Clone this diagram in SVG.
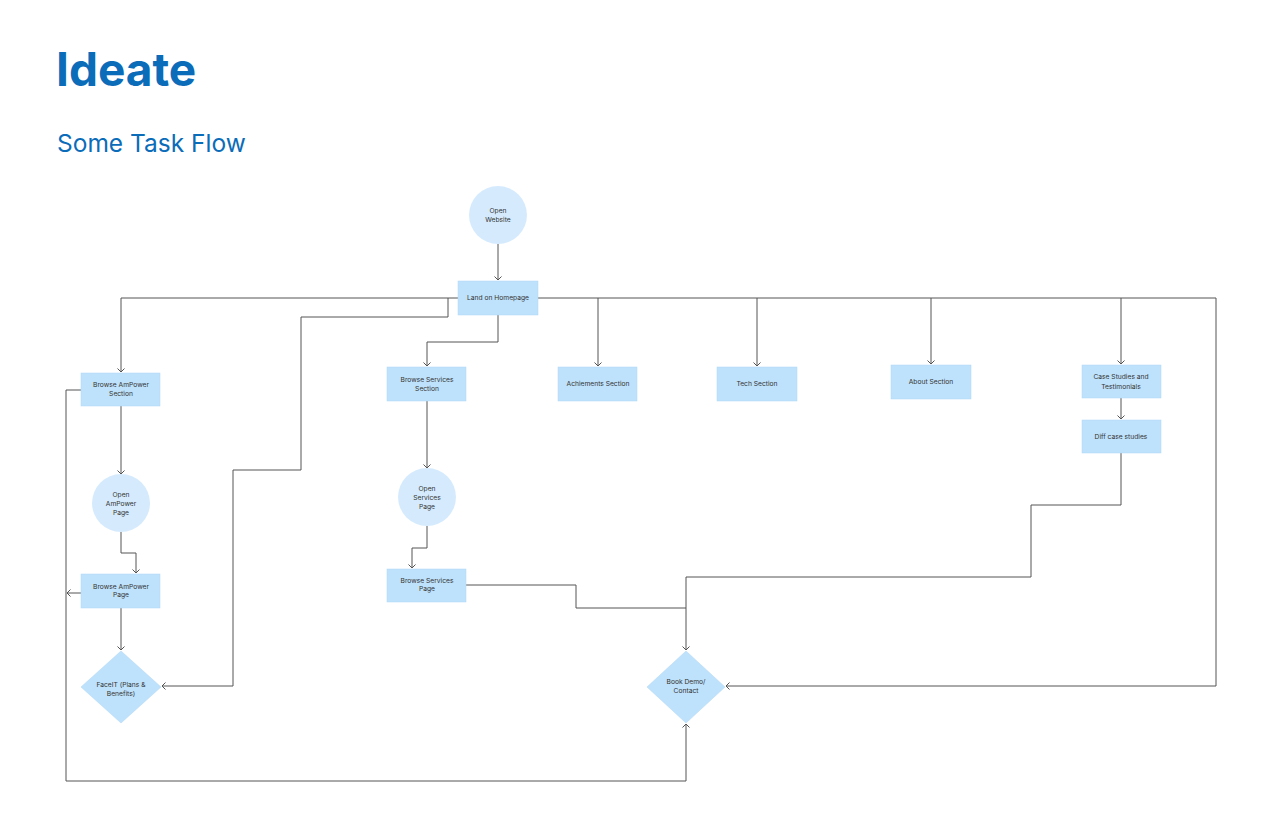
<svg xmlns="http://www.w3.org/2000/svg" width="1280" height="832" viewBox="0 0 1280 832">
<style>
.t1{font-family:Inter,"Liberation Sans",sans-serif;font-weight:700;font-size:46px;fill:#0b6cb9}
.t2{font-family:Inter,"Liberation Sans",sans-serif;font-size:24.5px;fill:#0b6cb9}
.box{fill:#bfe2fc;stroke:#aed6f5;stroke-width:0.5}
.circ{fill:#d5ebfd}
.lbl{font-family:Inter,"Liberation Sans",sans-serif;font-size:6.7px;fill:#333;text-anchor:middle}
.c{fill:none;stroke:#555;stroke-width:1;stroke-linejoin:round}
</style>
<defs>
<marker id="ar" markerWidth="8" markerHeight="8" refX="4" refY="4" orient="auto" markerUnits="userSpaceOnUse">
<polyline points="0.5,0.5 4,4 0.5,7.5" fill="none" stroke="#555" stroke-width="1"/>
</marker>
</defs>
<rect width="1280" height="832" fill="#fff"/>
<text class="t1" x="56" y="86">Ideate</text>
<text class="t2" x="57" y="152">Some Task Flow</text>

<g id="connectors">
<path class="c" d="M498 244 V280" marker-end="url(#ar)"/>
<path class="c" d="M458 298 H121 V372" marker-end="url(#ar)"/>
<path class="c" d="M448 298 V317 H301 V470 H233 V686 H162" marker-end="url(#ar)"/>
<path class="c" d="M498 315 V342 H427 V366" marker-end="url(#ar)"/>
<path class="c" d="M538 298 H1216 V686 H726" marker-end="url(#ar)"/>
<path class="c" d="M598 298 V366" marker-end="url(#ar)"/>
<path class="c" d="M757 298 V366" marker-end="url(#ar)"/>
<path class="c" d="M931 298 V364" marker-end="url(#ar)"/>
<path class="c" d="M1121 298 V364" marker-end="url(#ar)"/>
<path class="c" d="M1121 398 V419" marker-end="url(#ar)"/>
<path class="c" d="M1121 453 V505 H1031 V577 H686 V650" marker-end="url(#ar)"/>
<path class="c" d="M466 585 H576 V608 H686"/>
<path class="c" d="M81 390 H66 V781 H686 V724" marker-end="url(#ar)"/>
<path class="c" d="M81 593 H67" marker-end="url(#ar)"/>
<path class="c" d="M121 406 V474" marker-end="url(#ar)"/>
<path class="c" d="M121 532 V553 H136 V573" marker-end="url(#ar)"/>
<path class="c" d="M121 608 V650" marker-end="url(#ar)"/>
<path class="c" d="M427 401 V468" marker-end="url(#ar)"/>
<path class="c" d="M427 526 V548 H412 V568" marker-end="url(#ar)"/>
</g>

<g id="open-website"><circle class="circ" cx="498" cy="215" r="29"/><text class="lbl" x="498" y="213">Open</text><text class="lbl" x="498" y="222">Website</text></g>
<g id="land-homepage"><rect class="box" x="458" y="281" width="80" height="34"/><text class="lbl" x="498" y="300">Land on Homepage</text></g>
<g id="browse-ampower-section"><rect class="box" x="81" y="373" width="79" height="33"/><text class="lbl" x="121" y="387">Browse AmPower</text><text class="lbl" x="121" y="396">Section</text></g>
<g id="open-ampower-page"><circle class="circ" cx="121" cy="503" r="29"/><text class="lbl" x="121" y="497">Open</text><text class="lbl" x="121" y="506">AmPower</text><text class="lbl" x="121" y="515">Page</text></g>
<g id="browse-ampower-page"><rect class="box" x="81" y="574" width="79" height="34"/><text class="lbl" x="121" y="589">Browse AmPower</text><text class="lbl" x="121" y="597">Page</text></g>
<g id="faceit"><polygon class="box" points="121,651 161,687 121,723 81,687"/><text class="lbl" x="121" y="687">FaceIT (Plans &amp;</text><text class="lbl" x="121" y="696">Benefits)</text></g>
<g id="browse-services-section"><rect class="box" x="387" y="367" width="79" height="34"/><text class="lbl" x="427" y="382">Browse Services</text><text class="lbl" x="427" y="391">Section</text></g>
<g id="open-services-page"><circle class="circ" cx="427" cy="497" r="29"/><text class="lbl" x="427" y="491">Open</text><text class="lbl" x="427" y="500">Services</text><text class="lbl" x="427" y="509">Page</text></g>
<g id="browse-services-page"><rect class="box" x="387" y="569" width="79" height="33"/><text class="lbl" x="427" y="583">Browse Services</text><text class="lbl" x="427" y="591">Page</text></g>
<g id="achiements"><rect class="box" x="558" y="367" width="79" height="34"/><text class="lbl" x="598" y="386">Achiements Section</text></g>
<g id="tech"><rect class="box" x="717" y="367" width="80" height="34"/><text class="lbl" x="757" y="386">Tech Section</text></g>
<g id="about"><rect class="box" x="891" y="365" width="80" height="34"/><text class="lbl" x="931" y="384">About Section</text></g>
<g id="case-studies"><rect class="box" x="1082" y="365" width="79" height="33"/><text class="lbl" x="1121" y="379">Case Studies and</text><text class="lbl" x="1121" y="389">Testimonials</text></g>
<g id="diff-case"><rect class="box" x="1082" y="420" width="79" height="33"/><text class="lbl" x="1121" y="439">Diff case studies</text></g>
<g id="book-demo"><polygon class="box" points="686,651 725,687 686,723 647,687"/><text class="lbl" x="686" y="684">Book Demo/</text><text class="lbl" x="686" y="693">Contact</text></g>
</svg>
